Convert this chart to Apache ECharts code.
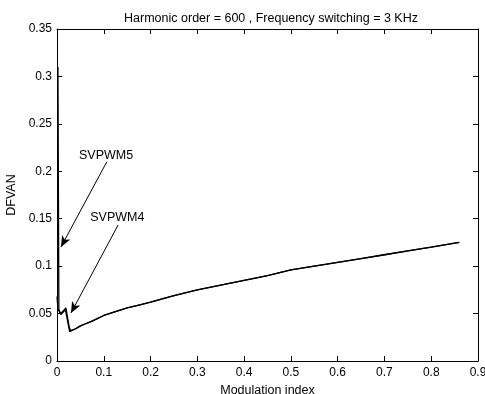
<!DOCTYPE html>
<html>
<head>
<meta charset="utf-8">
<script src="https://cdn.jsdelivr.net/npm/echarts@6/dist/echarts.min.js"></script>
<style>html,body{margin:0;padding:0;background:#fff}#c{width:485px;height:394px}</style>
</head>
<body>
<div id="c"></div>
<script>
var titleText = 'Harmonic order = 600 , Frequency switching = 3 KHz';
var xName = 'Modulation index';
var yName = 'DFVAN';
var xTicks = [0, 0.1, 0.2, 0.3, 0.4, 0.5, 0.6, 0.7, 0.8, 0.9];
var yTicks = [0, 0.05, 0.1, 0.15, 0.2, 0.25, 0.3, 0.35];

var mShared = [0.03, 0.04, 0.05, 0.06, 0.075, 0.1, 0.125, 0.15, 0.175, 0.2, 0.25, 0.3, 0.35, 0.4, 0.45, 0.5, 0.55, 0.6, 0.65, 0.7, 0.75, 0.8, 0.86];
var vShared = [0.030, 0.034, 0.037, 0.039, 0.042, 0.048, 0.052, 0.056, 0.059, 0.062, 0.069, 0.075, 0.080, 0.085, 0.090, 0.096, 0.100, 0.104, 0.108, 0.112, 0.116, 0.120, 0.125];

var m4Start = [0, 0.002, 0.008, 0.019, 0.026, 0.029];
var v4Start = [0.068, 0.055, 0.050, 0.056, 0.036, 0.032];
var m5Start = [0.002, 0.004, 0.008, 0.018, 0.027];
var v5Start = [0.31, 0.054, 0.049, 0.054, 0.031];

var labelNames = ['SVPWM5', 'SVPWM4'];
var labelPos = [[0.105, 0.217], [0.129, 0.151]];
var arrowFrom = [[0.1066, 0.2101], [0.1307, 0.1434]];
var arrowTo = [[0.0085, 0.1202], [0.0299, 0.0506]];

function pairs(ms, vs) { return ms.map(function (m, i) { return [m, vs[i]]; }); }
var s4 = pairs(m4Start, v4Start).concat(pairs(mShared, vShared));
var s5 = pairs(m5Start, v5Start).concat(pairs(mShared, vShared));

var font = 'Liberation Sans, Arial, sans-serif';
function fmt(list) {
  return function (v) { var t = list.find(function (x) { return Math.abs(x - v) < 1e-9; }); return t === undefined ? '' : String(t); };
}
function axisBase(extra) {
  var a = {
    type: 'value',
    axisLine: { show: true, onZero: false, lineStyle: { color: '#000', width: 1 } },
    axisTick: { show: true, inside: true, length: 5, lineStyle: { color: '#000' } },
    splitLine: { show: false },
    axisLabel: { show: false }
  };
  return Object.assign(a, extra);
}

var chart = echarts.init(document.getElementById('c'), null, { renderer: 'canvas' });
chart.setOption({
  animation: false,
  backgroundColor: '#fff',
  title: {
    text: titleText, left: 266, top: 7, textAlign: 'center',
    textStyle: { fontFamily: font, fontSize: 12.5, fontWeight: 'normal', color: '#000' }
  },
  grid: { left: 57, right: 7, top: 29, bottom: 33, containLabel: false, outerBoundsMode: 'none' },
  xAxis: [
    axisBase({
      min: 0, max: 0.9, interval: 0.1, position: 'bottom',
      name: xName, nameLocation: 'middle', nameGap: 20,
      nameTextStyle: { fontFamily: font, fontSize: 12.5, color: '#000' },
      axisLabel: { show: true, color: '#000', fontFamily: font, fontSize: 12, margin: 6, formatter: fmt(xTicks) }
    }),
    axisBase({ min: 0, max: 0.9, interval: 0.1, position: 'top' })
  ],
  yAxis: [
    axisBase({
      min: 0, max: 0.35, interval: 0.05, position: 'left',
      name: yName, nameLocation: 'middle', nameGap: 37,
      nameTextStyle: { fontFamily: font, fontSize: 12.5, color: '#000' },
      axisLabel: { show: true, color: '#000', fontFamily: font, fontSize: 12, margin: 5, formatter: fmt(yTicks) }
    }),
    axisBase({ min: 0, max: 0.35, interval: 0.05, position: 'right' })
  ],
  series: [
    {
      name: 'SVPWM4', type: 'line', data: s4, showSymbol: false, symbol: 'none',
      lineStyle: { color: '#000', width: 1.3 }, xAxisIndex: 0, yAxisIndex: 0,
      markLine: {
        silent: true, symbol: ['none', 'arrow'], symbolSize: [7, 11],
        lineStyle: { color: '#000', width: 1, type: 'solid' }, label: { show: false },
        data: [[{ coord: arrowFrom[0] }, { coord: arrowTo[0] }], [{ coord: arrowFrom[1] }, { coord: arrowTo[1] }]]
      },
      markPoint: {
        silent: true, symbol: 'circle', symbolSize: 1, itemStyle: { color: 'rgba(0,0,0,0)' },
        label: { show: true, position: 'inside', color: '#000', fontFamily: font, fontSize: 12.5,
          formatter: function (p) { return p.name; } },
        data: labelNames.map(function (n, i) { return { name: n, coord: labelPos[i] }; })
      }
    },
    {
      name: 'SVPWM5', type: 'line', data: s5, showSymbol: false, symbol: 'none',
      lineStyle: { color: '#000', width: 1.3 }, xAxisIndex: 0, yAxisIndex: 0
    }
  ]
});
</script>
</body>
</html>
